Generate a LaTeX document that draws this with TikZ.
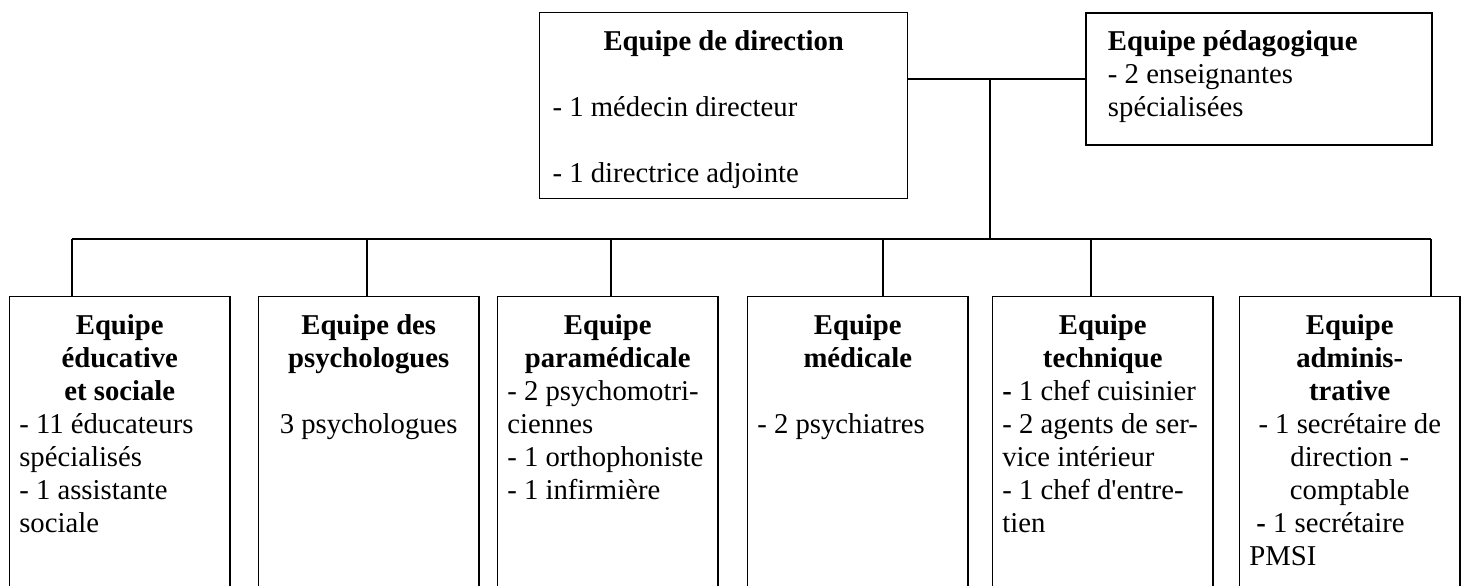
\documentclass[tikz,border=0pt]{standalone}
\usepackage{fontspec}
\setmainfont{Liberation Serif}
\usetikzlibrary{calc}
\newcommand{\team}[2]{\begin{minipage}[t][120pt][t]{84pt}{\centering\bfseries\strut #1\par}\raggedright #2\end{minipage}}

\begin{document}
\begin{tikzpicture}[x=0.418pt,y=-0.418pt,line width=0.6pt,
    font=\fontsize{12}{13.8}\selectfont,
    box/.style={draw,anchor=north west,inner xsep=4pt,inner ysep=6.2pt}]
    \useasboundingbox (0,0) rectangle (1465,585);
    % top row
    \node[box,inner xsep=5.4pt] (dir) at (539,12) {\begin{minipage}[t][65.3pt][t]{143pt}{\centering\bfseries\strut Equipe de direction\par}
      \mbox{}\\ - 1 médecin directeur\\ \mbox{}\\ - 1 directrice adjointe\end{minipage}};
    \node[box,inner xsep=9.2pt,line width=0.8pt] (peda) at (1085,12) {\begin{minipage}[t][42.8pt][t]{126.2pt}\raggedright\strut\textbf{Equipe pédagogique}\\
      - 2 enseignantes\\ spécialisées\end{minipage}};
    % bottom row
    \node[box] (educ) at (9,296) {\team{Equipe\\ éducative\\ et sociale}{- 11 éducateurs\\ spécialisés\\ - 1 assistante\\ sociale}};
    \node[box] (psy) at (258,296) {\team{Equipe des\\ psychologues}{\mbox{}\\ \centering 3 psychologues}};
    \node[box] (para) at (497,296) {\team{Equipe\\ paramédicale}{- 2 psychomotri-\\ ciennes\\ - 1 orthophoniste\\ - 1 infirmière}};
    \node[box] (med) at (747,296) {\team{Equipe\\ médicale}{\mbox{}\\ - 2 psychiatres}};
    \node[box] (tech) at (992,296) {\team{Equipe\\ technique}{\textbf{-} 1 chef cuisinier\\ - 2 agents de ser-\\ vice intérieur\\ - 1 chef d\textquotesingle entre-\\ tien}};
    \node[box] (admin) at (1239,296) {\team{Equipe\\ adminis-\\ trative}{{\centering - 1 secrétaire de\\ direction -\\ comptable\par}\ \textbf{-} 1 secrétaire\\ PMSI}};
    % connectors
    \coordinate (hub) at (990,79);
    \coordinate (d1) at (72,239);
    \coordinate (d2) at (367,239);
    \coordinate (d3) at (611,239);
    \coordinate (d4) at (883,239);
    \coordinate (d5) at (1091,239);
    \coordinate (d6) at (1431,239);
    \path (peda.west) edge (peda.west -| dir.east);
    \path (hub) edge (hub |- d1);
    \path (d1) edge (d6);
    \path (d1) edge (d1 |- educ.north);
    \path (d2) edge (d2 |- psy.north);
    \path (d3) edge (d3 |- para.north);
    \path (d4) edge (d4 |- med.north);
    \path (d5) edge (d5 |- tech.north);
    \path (d6) edge (d6 |- admin.north);
\end{tikzpicture}
\end{document}
